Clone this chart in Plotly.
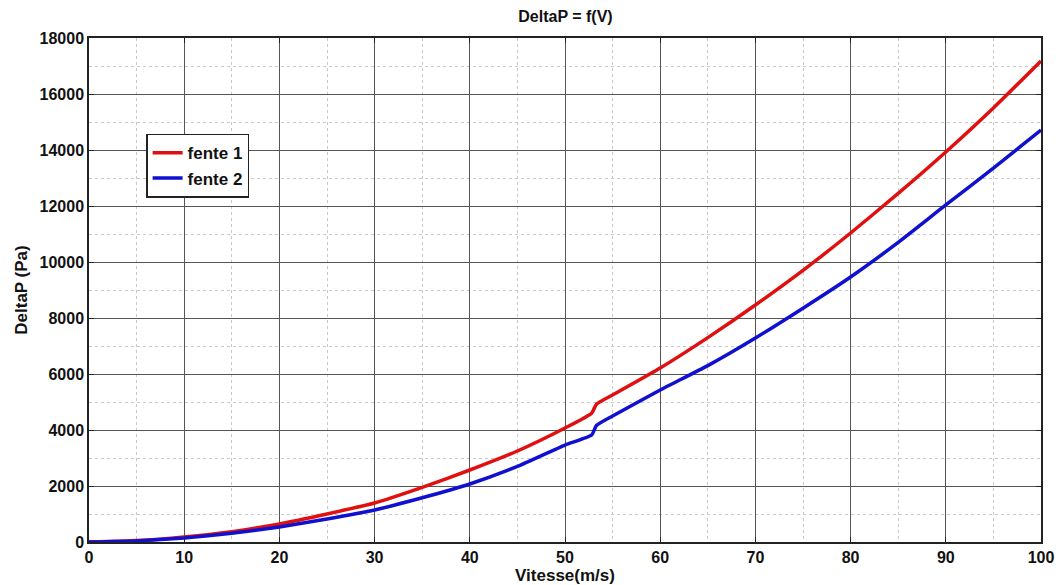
import plotly.graph_objects as go

v = [0, 5, 10, 15, 20, 25, 30, 35, 40, 45, 50, 52.8, 53.3, 55, 60, 65, 70, 75, 80, 85, 90, 95, 100]
fente1 = [0, 50, 179, 370, 643, 1000, 1393, 1950, 2571, 3250, 4071, 4600, 4920, 5250, 6214, 7300, 8464, 9700, 11036, 12450, 13930, 15500, 17180]
fente2 = [0, 40, 143, 310, 536, 820, 1143, 1580, 2071, 2700, 3464, 3820, 4160, 4500, 5429, 6300, 7286, 8350, 9464, 10700, 12036, 13350, 14714]

font_family = "Liberation Sans, Arial, sans-serif"

fig = go.Figure()
fig.add_trace(go.Scatter(x=v, y=fente1, mode="lines", name="fente 1",
                         line=dict(color="#e01010", width=3.5, shape="spline", smoothing=0.5)))
fig.add_trace(go.Scatter(x=v, y=fente2, mode="lines", name="fente 2",
                         line=dict(color="#1010d0", width=3.5, shape="spline", smoothing=0.5)))

axis_common = dict(
    showline=True, linecolor="#222", linewidth=1.5, mirror="ticks",
    ticks="inside", ticklen=5, tickcolor="#222",
    showgrid=True, gridcolor="#555", gridwidth=1,
    zeroline=False, automargin=False,
    tickfont=dict(family=font_family, size=16, color="#111", weight="bold"),
)

fig.update_xaxes(range=[0, 100], dtick=10, **axis_common,
                 minor=dict(dtick=5, showgrid=True, gridcolor="#c8c8c8", griddash="dot", gridwidth=1),
                 title=dict(text="Vitesse(m/s)", standoff=4,
                            font=dict(family=font_family, size=17, color="#111", weight="bold")))
fig.update_yaxes(range=[0, 18000], dtick=2000, tickformat="d", **axis_common,
                 minor=dict(dtick=1000, showgrid=True, gridcolor="#c8c8c8", griddash="dot", gridwidth=1),
                 title=dict(text="DeltaP (Pa)", standoff=8,
                            font=dict(family=font_family, size=17, color="#111", weight="bold")))

fig.update_layout(
    width=1061, height=585,
    margin=dict(l=89, r=20, t=38, b=43, autoexpand=False),
    paper_bgcolor="white", plot_bgcolor="white",
    title=dict(text="DeltaP = f(V)", x=0.533, xanchor="center", y=0.972, yanchor="middle",
               font=dict(family=font_family, size=16, color="#111", weight="bold")),
    legend=dict(x=0.06, y=0.81, xanchor="left", yanchor="top",
                bgcolor="white", bordercolor="#222", borderwidth=1.5,
                font=dict(family=font_family, size=17, color="#111", weight="bold"),
                itemwidth=30, tracegroupgap=0),
    showlegend=True,
)

fig.write_html("out.html")
